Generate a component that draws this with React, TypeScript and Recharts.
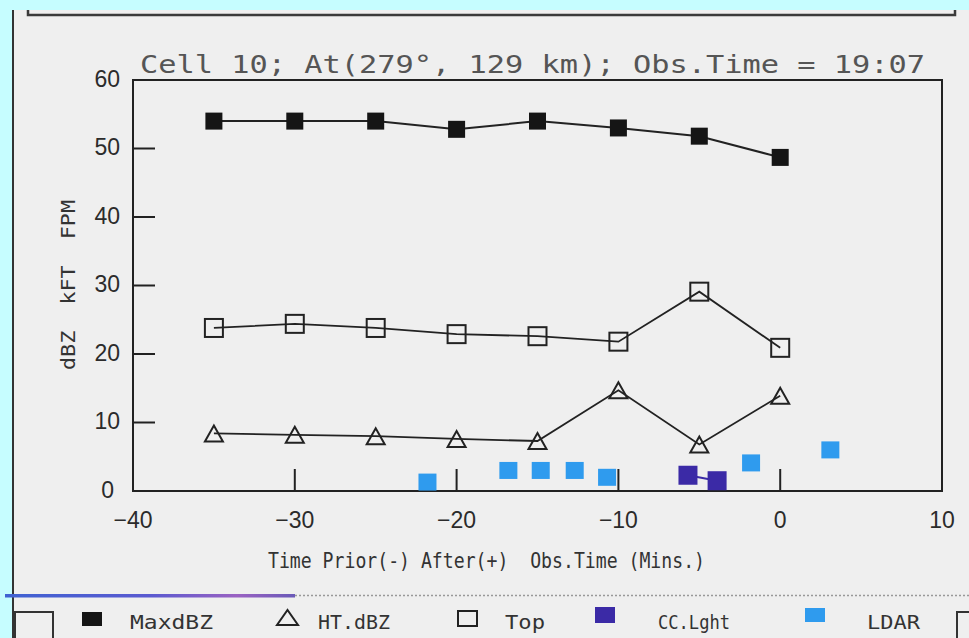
import React from "react";
import { ComposedChart, Line, Scatter, XAxis, YAxis, ReferenceArea, Legend } from "recharts";

const W = 969;
const H = 638;

// five-minute scans relative to the observation time
const scanTimes = [-35, -30, -25, -20, -15, -10, -5, 0];
const maxDbz = [54, 54, 54, 52.8, 54, 53, 51.8, 48.7];
const htDbz = [8.4, 8.2, 8.0, 7.6, 7.3, 14.7, 6.8, 13.9];
const topKft = [23.8, 24.4, 23.8, 22.9, 22.6, 21.8, 29.1, 20.9];

// lightning counts
const ccTimes = [-5.7, -3.9];
const ccCounts = [2.3, 1.5];
const ldarTimes = [-21.8, -16.8, -14.8, -12.7, -10.7, -1.8, 3.1];
const ldarCounts = [1.3, 3.0, 3.0, 3.0, 2.0, 4.1, 6.0];

const xTicks = [-40, -30, -20, -10, 0, 10];
const yTicks = [0, 10, 20, 30, 40, 50, 60];
const seriesNames = ["MaxdBZ", "HT.dBZ", "Top", "CC.Lght", "LDAR"];

const TITLE = "Cell 10; At(279\u00b0, 129 km); Obs.Time = 19:07";
const X_LABEL = "Time Prior(-) After(+)  Obs.Time (Mins.)";
const Y_LABEL = "dBZ  kFT  FPM";

const CYAN = "#c6fdff";
const PAPER = "#efefef";
const INK = "#222";
const PURPLE = "#3b2aa6";
const BLUE = "#2f9bee";

const Y_MARGIN = 13;
const X_MARGIN = 12;
const TICK_LEN = 22;

const pair = (xs: number[], ys: number[]) => xs.map((t, i) => ({ t, v: ys[i] }));
const maxData = pair(scanTimes, maxDbz);
const htData = pair(scanTimes, htDbz);
const topData = pair(scanTimes, topKft);
const ccData = pair(ccTimes, ccCounts);
const ldarData = pair(ldarTimes, ldarCounts);

const tickFont = { fontFamily: "Liberation Sans, Arial, sans-serif", fontSize: 23, fill: "#2b2b2b" };

const fmt = (v: number) => (v < 0 ? `\u2212${Math.abs(v)}` : `${v}`);

// y ticks: label left of the axis, tick mark pointing into the plot
const YTick = (p: any) => {
  const v = p.payload.value;
  const ax = p.x + Y_MARGIN;
  return (
    <g>
      {v > 0 && v < 60 && (
        <line x1={ax} x2={ax + TICK_LEN} y1={p.y} y2={p.y} stroke={INK} strokeWidth={2} />
      )}
      <text x={p.x - (v === 0 ? 6 : 0)} y={p.y} dy="0.3em" textAnchor="end" {...tickFont}>
        {v}
      </text>
    </g>
  );
};

// x ticks: label below the axis, tick mark pointing up
const XTick = (p: any) => {
  const v = p.payload.value;
  const ay = p.y - X_MARGIN;
  return (
    <g>
      {v > -40 && v < 10 && (
        <line x1={p.x} x2={p.x} y1={ay} y2={ay - TICK_LEN} stroke={INK} strokeWidth={2} />
      )}
      <text x={p.x} y={p.y} dy="1.08em" textAnchor="middle" {...tickFont}>
        {fmt(v)}
      </text>
    </g>
  );
};

const FilledSquare = (p: any) => (
  <rect key={p.key} x={p.cx - 8.5} y={p.cy - 8.5} width={17} height={17} fill="#151515" />
);
const OpenSquare = (p: any) => (
  <rect key={p.key} x={p.cx - 9} y={p.cy - 9} width={18} height={18} fill="none" stroke={INK} strokeWidth={2} />
);
const OpenTriangle = (p: any) => (
  <path
    key={p.key}
    d={`M${p.cx - 9},${p.cy + 8} L${p.cx + 9},${p.cy + 8} L${p.cx},${p.cy - 8} Z`}
    fill="none"
    stroke={INK}
    strokeWidth={2}
  />
);
const PurpleSquare = (p: any) => (
  <rect key={p.key} x={p.cx - 9.5} y={p.cy - 9.5} width={19} height={19} fill={PURPLE} />
);
const BlueSquare = (p: any) => (
  <rect x={p.cx - 9} y={p.cy - 8.5} width={18} height={17} fill={BLUE} />
);

// legend slots along the bottom strip (x of icon, x and width of text)
const legendSlots = [
  { icon: 82, text: 130, len: 83 },
  { icon: 277, text: 318, len: 72 },
  { icon: 458, text: 505, len: 40 },
  { icon: 595, text: 658, len: 72 },
  { icon: 805, text: 867, len: 53 },
];

const legendIcon = (name: string, x: number) => {
  switch (name) {
    case "MaxdBZ":
      return <rect x={x} y={12} width={20} height={14} fill="#151515" />;
    case "HT.dBZ":
      return <path d={`M${x},${25} L${x + 21},${25} L${x + 10.5},${10} Z`} fill="none" stroke={INK} strokeWidth={2} />;
    case "Top":
      return <rect x={x} y={11} width={19} height={15} fill="none" stroke={INK} strokeWidth={2} />;
    case "CC.Lght":
      return <rect x={x} y={7} width={20} height={16} fill={PURPLE} />;
    default:
      return <rect x={x} y={8} width={20} height={14} fill={BLUE} />;
  }
};

const LegendStrip = (props: any) => {
  const items = (props.payload || []) as any[];
  return (
    <svg width={W} height={38} style={{ display: "block" }}>
      <rect x={15} y={12} width={38} height={40} fill="none" stroke="#333" strokeWidth={2} />
      <path d={`M${W},12 H957 V40`} fill="none" stroke="#333" strokeWidth={2} />
      {items.map((entry) => {
        const i = seriesNames.indexOf(entry.value);
        if (i < 0) return null;
        const s = legendSlots[i];
        return (
          <g key={entry.value}>
            {legendIcon(entry.value, s.icon)}
            <text
              x={s.text}
              y={22}
              dy="0.35em"
              textLength={s.len}
              lengthAdjust="spacingAndGlyphs"
              fontFamily="DejaVu Sans Mono, monospace"
              fontSize={20}
              fill="#333"
            >
              {entry.value}
            </text>
          </g>
        );
      })}
    </svg>
  );
};

export default function App() {
  return (
    <div style={{ position: "absolute", left: 0, top: 0, width: W, height: H, background: CYAN, overflow: "hidden" }}>
      <div style={{ position: "absolute", left: 12, top: 10, right: 0, bottom: 0, background: PAPER }} />
      <svg width={W} height={H} style={{ position: "absolute", left: 0, top: 0 }}>
        <line x1={13} x2={13} y1={10} y2={H} stroke="#333" strokeWidth={2} />
        <path d="M28,10 V15 H955 V10" fill="none" stroke="#3a3a3a" strokeWidth={2.5} />
        <text
          x={140}
          y={64}
          dy="0.35em"
          textLength={785}
          lengthAdjust="spacingAndGlyphs"
          fontFamily="DejaVu Sans Mono, monospace"
          fontSize={25}
          fill="#555"
        >
          {TITLE}
        </text>
        <text
          x={268}
          y={560}
          dy="0.35em"
          textLength={437}
          lengthAdjust="spacingAndGlyphs"
          fontFamily="DejaVu Sans Mono, monospace"
          fontSize={22}
          fill="#333"
          style={{ whiteSpace: "pre" }}
        >
          {X_LABEL}
        </text>
        <text
          transform="translate(68,285) rotate(-90)"
          x={0}
          y={0}
          dy="0.35em"
          textAnchor="middle"
          textLength={170}
          lengthAdjust="spacingAndGlyphs"
          fontFamily="DejaVu Sans Mono, monospace"
          fontSize={19}
          fill="#333"
          style={{ whiteSpace: "pre" }}
        >
          {Y_LABEL}
        </text>
        <defs>
          <linearGradient id="scanline" x1="0" x2="1" y1="0" y2="0">
            <stop offset="0" stopColor="#3f62d2" />
            <stop offset="0.5" stopColor="#5a5ad0" />
            <stop offset="0.8" stopColor="#9a62c2" />
            <stop offset="1" stopColor="#6a5ab8" />
          </linearGradient>
        </defs>
        <rect x={5} y={594} width={290} height={3.5} fill="url(#scanline)" />
        <line x1={295} x2={W} y1={595.5} y2={595.5} stroke="#999" strokeWidth={1.5} strokeDasharray="2 2" />
      </svg>
      <div style={{ position: "absolute", left: 0, top: 0 }}>
        <ComposedChart width={W} height={H} margin={{ top: 80, right: 27, bottom: 107, left: 73 }}>
          <XAxis
            dataKey="t"
            type="number"
            domain={[-40, 10]}
            ticks={xTicks}
            allowDataOverflow
            height={40}
            tickSize={0}
            tickMargin={X_MARGIN}
            tickLine={false}
            tick={<XTick />}
            axisLine={{ stroke: INK, strokeWidth: 2 }}
            interval={0}
          />
          <YAxis
            type="number"
            domain={[0, 60]}
            ticks={yTicks}
            allowDataOverflow
            width={60}
            tickSize={0}
            tickMargin={Y_MARGIN}
            tickLine={false}
            tick={<YTick />}
            axisLine={{ stroke: INK, strokeWidth: 2 }}
            interval={0}
          />
          <ReferenceArea x1={-40} x2={10} y1={0} y2={60} fill="none" stroke={INK} strokeWidth={2} ifOverflow="visible" />
          <Line data={maxData} dataKey="v" name="MaxdBZ" type="linear" stroke={INK} strokeWidth={2} dot={FilledSquare} activeDot={false} isAnimationActive={false} />
          <Line data={htData} dataKey="v" name="HT.dBZ" type="linear" stroke={INK} strokeWidth={1.8} dot={OpenTriangle} activeDot={false} isAnimationActive={false} />
          <Line data={topData} dataKey="v" name="Top" type="linear" stroke={INK} strokeWidth={1.8} dot={OpenSquare} activeDot={false} isAnimationActive={false} />
          <Line data={ccData} dataKey="v" name="CC.Lght" type="linear" stroke={PURPLE} strokeWidth={2} dot={PurpleSquare} activeDot={false} isAnimationActive={false} />
          <Scatter data={ldarData} dataKey="v" name="LDAR" fill={BLUE} shape={BlueSquare} isAnimationActive={false} />
          <Legend
            layout="horizontal"
            verticalAlign="middle"
            align="center"
            content={<LegendStrip />}
            wrapperStyle={{ left: 0, top: 600, width: W, height: 38 }}
          />
        </ComposedChart>
      </div>
    </div>
  );
}
